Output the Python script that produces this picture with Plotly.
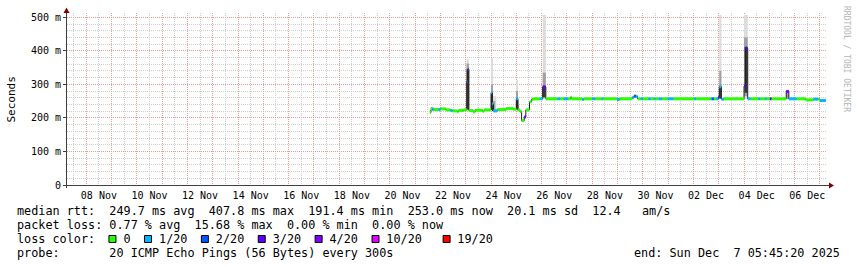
import pandas as pd
import plotly.graph_objects as go

# ---------------- data ----------------
median_time = [
    "2025-11-21 14:00", "2025-11-21 15:00", "2025-11-21 16:30", "2025-11-21 18:00",
    "2025-11-21 22:00", "2025-11-22 00:00", "2025-11-22 05:00", "2025-11-22 09:30",
    "2025-11-22 11:30", "2025-11-22 16:00", "2025-11-22 17:00", "2025-11-22 22:00",
    "2025-11-23 01:00", "2025-11-23 02:00", "2025-11-23 03:00", "2025-11-23 07:00",
    "2025-11-23 09:00", "2025-11-23 16:00", "2025-11-23 17:30", "2025-11-24 00:00",
    "2025-11-24 01:00", "2025-11-24 02:00", "2025-11-24 06:00", "2025-11-24 14:30",
    "2025-11-24 21:00", "2025-11-25 00:00", "2025-11-25 01:30", "2025-11-25 03:30",
    "2025-11-25 05:00", "2025-11-25 07:30", "2025-11-25 09:00", "2025-11-25 12:30",
    "2025-11-25 14:30", "2025-11-25 16:30", "2025-11-25 22:30", "2025-11-26 01:00",
    "2025-11-26 04:00", "2025-11-26 15:00", "2025-11-26 17:30", "2025-11-26 21:00",
    "2025-11-27 01:00", "2025-11-27 03:30", "2025-11-27 04:30", "2025-11-27 14:30",
    "2025-11-27 16:00", "2025-11-28 00:00", "2025-11-28 03:00", "2025-11-28 09:00",
    "2025-11-28 10:30", "2025-11-28 23:30", "2025-11-29 02:00", "2025-11-29 14:00",
    "2025-11-29 15:30", "2025-11-29 17:30", "2025-11-29 19:00", "2025-11-29 22:00",
    "2025-11-30 00:00", "2025-11-30 05:00", "2025-11-30 07:30", "2025-11-30 10:30",
    "2025-11-30 12:00", "2025-11-30 15:00", "2025-11-30 18:30", "2025-11-30 23:30",
    "2025-12-01 05:00", "2025-12-02 00:30", "2025-12-02 02:30", "2025-12-02 16:30",
    "2025-12-02 17:30", "2025-12-02 19:30", "2025-12-02 21:30", "2025-12-02 23:30",
    "2025-12-03 00:30", "2025-12-03 02:30", "2025-12-03 05:00", "2025-12-04 00:00",
    "2025-12-04 01:30", "2025-12-04 03:30", "2025-12-04 06:00", "2025-12-04 13:30",
    "2025-12-04 15:30", "2025-12-04 20:00", "2025-12-04 21:30", "2025-12-05 00:30",
    "2025-12-05 02:00", "2025-12-05 16:00", "2025-12-05 18:30", "2025-12-06 02:00",
    "2025-12-06 10:30", "2025-12-06 18:00", "2025-12-06 22:30", "2025-12-07 00:00",
]
median_end = "2025-12-07 05:30"
median_ms = [
    216, 224, 226, 225,
    225, 227, 224, 222,
    221, 218, 222, 224,
    308, 345, 222, 218,
    223, 220, 224, 275,
    242, 221, 225, 228,
    226, 257, 224, 219,
    192, 203, 224, 248,
    256, 257, 257, 292,
    257, 257, 257, 257,
    257, 262, 257, 255,
    257, 257, 257, 257,
    257, 255, 257, 261,
    265, 264, 257, 257,
    257, 257, 257, 257,
    257, 257, 257, 257,
    257, 257, 257, 257,
    257, 257, 257, 262,
    293, 256, 257, 295,
    407.8, 257, 257, 257,
    257, 257, 257, 257,
    257, 279, 257, 257,
    254, 256, 256, 252,
]
median_loss = [
    0, 0, 1, 0,
    1, 0, 0, 1,
    0, 0, 0, 0,
    2, 2, 0, 0,
    0, 0, 0, 1,
    1, 1, 0, 0,
    0, 1, 0, 0,
    0, 3, 0, 0,
    0, 0, 1, 3,
    0, 1, 0, 1,
    0, 0, 0, 1,
    0, 1, 0, 1,
    0, 1, 0, 1,
    2, 1, 0, 1,
    0, 1, 0, 1,
    0, 1, 0, 1,
    0, 1, 0, 1,
    2, 0, 1, 3,
    1, 1, 0, 3,
    3, 1, 0, 1,
    0, 1, 0, 3,
    0, 4, 1, 0,
    0, 1, 0, 1,
]

# smoke (spread of individual pings): start, end, low, high, shade layer
smoke_start = [
    "2025-11-21 14:30",
    "2025-11-23 00:45", "2025-11-23 00:45", "2025-11-23 00:45",
    "2025-11-24 00:00", "2025-11-24 00:00", "2025-11-24 00:00",
    "2025-11-24 01:00", "2025-11-24 01:00", "2025-11-24 01:00",
    "2025-11-25 00:00", "2025-11-25 00:00", "2025-11-25 00:00",
    "2025-11-25 01:00", "2025-11-25 01:00",
    "2025-11-26 01:00", "2025-11-26 01:00", "2025-11-26 01:00",
    "2025-12-03 00:30", "2025-12-03 00:30", "2025-12-03 00:30",
    "2025-12-04 00:00", "2025-12-04 00:00", "2025-12-04 00:30",
    "2025-12-05 16:00",
]
smoke_end = [
    "2025-11-21 17:00",
    "2025-11-23 03:00", "2025-11-23 03:00", "2025-11-23 03:00",
    "2025-11-24 01:00", "2025-11-24 01:00", "2025-11-24 01:00",
    "2025-11-24 05:00", "2025-11-24 04:00", "2025-11-24 02:00",
    "2025-11-25 01:00", "2025-11-25 01:00", "2025-11-25 01:00",
    "2025-11-25 02:30", "2025-11-25 02:30",
    "2025-11-26 04:00", "2025-11-26 04:00", "2025-11-26 03:30",
    "2025-12-03 02:30", "2025-12-03 02:30", "2025-12-03 02:30",
    "2025-12-04 03:30", "2025-12-04 03:30", "2025-12-04 03:00",
    "2025-12-05 18:30",
]
smoke_lo = [221, 222, 224, 226, 222, 224, 224, 219, 220, 221, 224, 226, 228, 221, 222,
            257, 260, 262, 256, 258, 258, 257, 265, 275, 256]
smoke_hi = [232, 375, 362, 345, 378, 300, 275, 265, 250, 240, 312, 280, 257, 255, 238,
            507, 335, 296, 507, 340, 293, 507, 440, 412, 283]
smoke_layer = [1, 0, 1, 2, 0, 1, 2, 0, 1, 2, 0, 1, 2, 0, 1,
               0, 1, 2, 0, 1, 2, 0, 1, 2, 1]
smoke_colors = ["#dcdcdc", "#a0a0a0", "#383838"]

loss_labels = ["0", "1/20", "2/20", "3/20", "4/20", "10/20", "19/20"]
loss_colors = ["#26ff00", "#00b8ff", "#0059ff", "#5e00ff", "#7e00ff", "#dd00ff", "#ff0000"]

x_start = "2025-11-07 05:45:20"
x_end = "2025-12-07 05:45:20"
x_label_vals = ["2025-11-%02d 12:00" % d for d in range(8, 31, 2)] + \
               ["2025-12-%02d 12:00" % d for d in range(2, 7, 2)]
x_label_text = ["%02d Nov" % d for d in range(8, 31, 2)] + ["%02d Dec" % d for d in range(2, 7, 2)]
y_tick_vals = [0, 100, 200, 300, 400, 500]
y_tick_text = ["0", "100 m", "200 m", "300 m", "400 m", "500 m"]

stats_rtt = "median rtt:  249.7 ms avg  407.8 ms max  191.4 ms min  253.0 ms now  20.1 ms sd  12.4   am/s"
stats_loss = "packet loss: 0.77 % avg  15.68 % max  0.00 % min  0.00 % now"
probe_text = "probe:       20 ICMP Echo Pings (56 Bytes) every 300s"
end_text = "end: Sun Dec  7 05:45:20 2025"

# ---------------- geometry ----------------
W, H = 857, 267
ML, MR, MT, MB = 67, 31, 13, 82
PW = W - ML - MR
PH = H - MT - MB
BOT = H - MB


def px(x):
    return (x - ML) / PW


def py(y):
    return (BOT - y) / PH


MONO = "DejaVu Sans Mono"
CW = 7.11      # legend char advance
LX = 16        # legend left

fig = go.Figure()

# smoke
ss = pd.to_datetime(smoke_start)
se = pd.to_datetime(smoke_end)
for layer, col in enumerate(smoke_colors):
    idx = [k for k in range(len(smoke_layer)) if smoke_layer[k] == layer]
    fig.add_trace(go.Bar(
        x=[ss[k] + (se[k] - ss[k]) / 2 for k in idx],
        y=[smoke_hi[k] - smoke_lo[k] for k in idx],
        base=[smoke_lo[k] for k in idx],
        width=[(se[k] - ss[k]).total_seconds() * 1000 for k in idx],
        marker=dict(color=col, line=dict(width=0)),
        showlegend=False, hoverinfo="skip", xaxis="x", yaxis="y"))

# thin dark median line
t_all = median_time + [median_end]
fig.add_trace(go.Scatter(
    x=t_all, y=median_ms + [median_ms[-1]], mode="lines",
    line=dict(color="#202020", width=1, shape="hv"),
    showlegend=False, hoverinfo="skip", xaxis="x2", yaxis="y"))

# thick median coloured by loss: horizontal pieces only (verticals stay dark)
n = len(median_ms)
runs = {c: ([], []) for c in range(len(loss_colors))}
for i in range(n):
    c = median_loss[i]
    runs[c][0].extend([t_all[i], t_all[i + 1], None])
    runs[c][1].extend([median_ms[i], median_ms[i], None])
for c, (xs, ys) in runs.items():
    if xs:
        fig.add_trace(go.Scatter(
            x=xs, y=ys, mode="lines", connectgaps=False,
            line=dict(color=loss_colors[c], width=3),
            showlegend=False, hoverinfo="skip", xaxis="x2", yaxis="y"))

MAJ = "#eb9999"
MIN = "#cfcfcf"
DOT = "1px,1px"

fig.update_layout(
    width=W, height=H, autosize=False,
    margin=dict(l=ML, r=MR, t=MT, b=MB, pad=0),
    paper_bgcolor="white", plot_bgcolor="white",
    barmode="overlay", showlegend=False,
    font=dict(family=MONO, size=10, color="black"),
    xaxis=dict(
        type="date", range=[x_start, x_end], fixedrange=True,
        tick0="2025-11-08 00:00", dtick=86400000,
        showgrid=True, gridcolor=MAJ, griddash=DOT, gridwidth=1,
        showticklabels=False, ticks="", showline=False, zeroline=False,
        minor=dict(tick0="2025-11-07 12:00", dtick=43200000, showgrid=True,
                   gridcolor=MIN, griddash=DOT, gridwidth=1, ticks=""),
    ),
    xaxis2=dict(
        type="date", range=[x_start, x_end], overlaying="x", anchor="y", side="bottom",
        fixedrange=True, showgrid=False, zeroline=False, showline=False,
        tickmode="array", tickvals=x_label_vals, ticktext=x_label_text,
        ticks="", ticklabelstandoff=3,
        tickfont=dict(family=MONO, size=10, color="black"),
    ),
    yaxis=dict(
        range=[0, (BOT - MT) / 0.3354], fixedrange=True,
        tickmode="array", tickvals=y_tick_vals, ticktext=y_tick_text,
        showgrid=True, gridcolor=MAJ, griddash=DOT, gridwidth=1,
        ticks="outside", ticklen=3, tickcolor="#404040",
        tickfont=dict(family=MONO, size=10, color="black"),
        zeroline=False, showline=False,
        minor=dict(tickmode="linear", tick0=0, dtick=20, showgrid=True,
                   gridcolor=MIN, griddash=DOT, gridwidth=1, ticks=""),
    ),
)

shapes = []
AX = "#404040"
ARR = "#800000"
# axes
shapes.append(dict(type="line", xref="paper", yref="paper",
                   x0=px(66.5), x1=px(66.5), y0=py(188), y1=py(12),
                   line=dict(color=AX, width=1)))
shapes.append(dict(type="line", xref="paper", yref="paper",
                   x0=px(63), x1=px(830), y0=py(185.5), y1=py(185.5),
                   line=dict(color=AX, width=1)))
# arrows
shapes.append(dict(type="path", xref="paper", yref="paper",
                   path="M %f %f L %f %f L %f %f Z" % (px(66.5), py(7.5), px(63.5), py(13), px(69.5), py(13)),
                   fillcolor=ARR, line=dict(color=ARR, width=0)))
shapes.append(dict(type="path", xref="paper", yref="paper",
                   path="M %f %f L %f %f L %f %f Z" % (px(834), py(185.5), px(829), py(182.5), px(829), py(188.5)),
                   fillcolor=ARR, line=dict(color=ARR, width=0)))

# legend boxes
box_cols = [13, 18, 26, 34, 42, 50, 60]
text_cols = [15, 20, 28, 36, 44, 52, 62]
for c, col in zip(box_cols, loss_colors):
    x0 = LX + c * CW + 0.5
    shapes.append(dict(type="rect", xref="paper", yref="paper",
                       x0=px(x0), x1=px(x0 + 7), y0=py(242.5), y1=py(235.5),
                       fillcolor=col, line=dict(color="black", width=1)))
fig.update_layout(shapes=shapes)

# legend lines
line3 = [" "] * 70
for k, ch in enumerate("loss color:"):
    line3[k] = ch
for c, lab in zip(text_cols, loss_labels):
    for k, ch in enumerate(lab):
        line3[c + k] = ch
loss_line = "".join(line3).rstrip()

NB = "\u00a0"
LF = 11.8
annots = []
for txt, yy in [(stats_rtt, 211), (stats_loss, 225), (loss_line, 239), (probe_text, 253)]:
    annots.append(dict(text=txt.replace(" ", NB), xref="paper", yref="paper",
                       x=px(LX), y=py(yy), xanchor="left", yanchor="middle",
                       showarrow=False, borderpad=0,
                       font=dict(family=MONO, size=LF, color="black")))
annots.append(dict(text=end_text.replace(" ", NB), xref="paper", yref="paper",
                   x=px(841), y=py(253), xanchor="right", yanchor="middle",
                   showarrow=False, borderpad=0,
                   font=dict(family=MONO, size=LF, color="black")))
annots.append(dict(text="Seconds", xref="paper", yref="paper",
                   x=px(11), y=py(99.5), xanchor="center", yanchor="middle",
                   textangle=-90, showarrow=False, borderpad=0,
                   font=dict(family=MONO, size=11, color="black")))
annots.append(dict(text="RRDTOOL / TOBI OETIKER".replace(" ", NB), xref="paper", yref="paper",
                   x=px(847), y=py(59), xanchor="center", yanchor="middle",
                   textangle=90, showarrow=False, borderpad=0,
                   font=dict(family=MONO, size=8, color="#b4b4b4")))
fig.update_layout(annotations=annots)

fig.write_html("out.html", config={"displayModeBar": False})
